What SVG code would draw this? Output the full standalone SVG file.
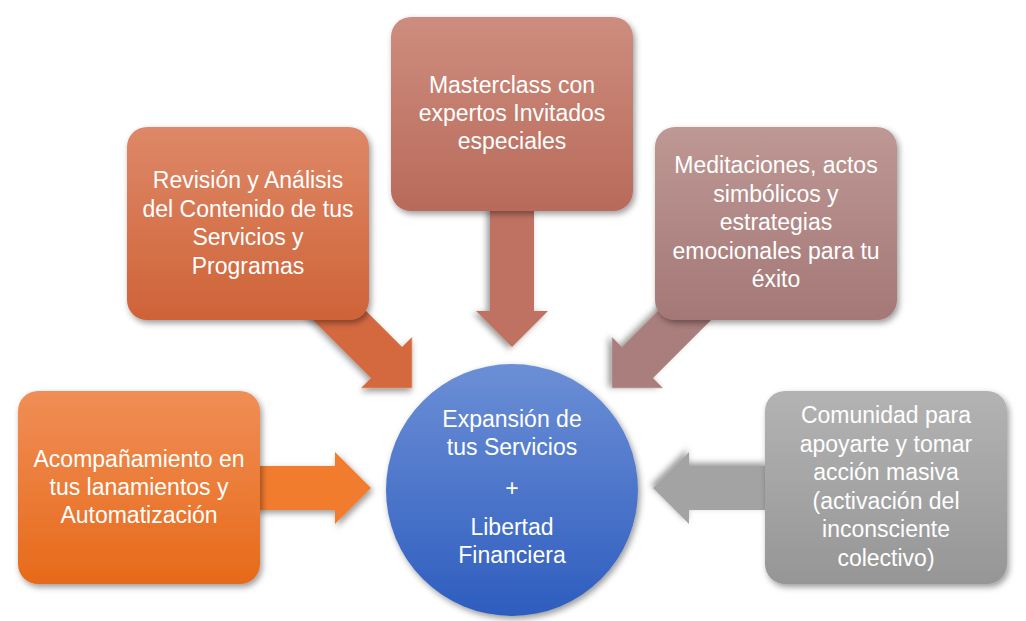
<svg xmlns="http://www.w3.org/2000/svg" width="1026" height="621" viewBox="0 0 1026 621">
<defs>
<filter id="sh" x="-20%" y="-20%" width="140%" height="140%">
<feDropShadow dx="2" dy="3" stdDeviation="3" flood-color="#000" flood-opacity="0.4"/>
</filter>
<linearGradient id="gUL" x1="0" y1="0" x2="0" y2="1"><stop offset="0" stop-color="#DE8868"/><stop offset="1" stop-color="#CF6337"/></linearGradient>
<linearGradient id="gT" x1="0" y1="0" x2="0" y2="1"><stop offset="0" stop-color="#CD8D7E"/><stop offset="1" stop-color="#B96A5A"/></linearGradient>
<linearGradient id="gUR" x1="0" y1="0" x2="0" y2="1"><stop offset="0" stop-color="#BE9894"/><stop offset="1" stop-color="#A47877"/></linearGradient>
<linearGradient id="gL" x1="0" y1="0" x2="0" y2="1"><stop offset="0" stop-color="#F08E56"/><stop offset="1" stop-color="#E76A1A"/></linearGradient>
<linearGradient id="gR" x1="0" y1="0" x2="0" y2="1"><stop offset="0" stop-color="#B3B3B3"/><stop offset="1" stop-color="#969696"/></linearGradient>
<linearGradient id="gC" x1="0" y1="0" x2="0" y2="1"><stop offset="0" stop-color="#6C8FD6"/><stop offset="1" stop-color="#2E5DBE"/></linearGradient>
</defs>
<style>
.box{filter:url(#sh)}
.arr{filter:url(#sh)}
text{font-family:"Liberation Sans",Arial,sans-serif;font-size:23px;fill:#fff;text-anchor:middle}
</style>
<g id="connectors">
<path class="arr" fill="#F27C2E" transform="translate(371,488)" d="M0,0 L-36,-36 L-36,-22 L-115,-22 L-115,22 L-36,22 L-36,36 Z"/>
<path class="arr" fill="#A3A3A3" transform="translate(653,488) rotate(180)" d="M0,0 L-36,-36 L-36,-22 L-115,-22 L-115,22 L-36,22 L-36,36 Z"/>
<path class="arr" fill="#C07262" transform="translate(512,347) rotate(90)" d="M0,0 L-36,-36 L-36,-22 L-140,-22 L-140,22 L-36,22 L-36,36 Z"/>
<path class="arr" fill="#D4693F" transform="translate(412,388) rotate(45)" d="M0,0 L-36,-36 L-36,-22 L-130,-22 L-130,22 L-36,22 L-36,36 Z"/>
<path class="arr" fill="#A97E7B" transform="translate(612,388) rotate(135)" d="M0,0 L-36,-36 L-36,-22 L-130,-22 L-130,22 L-36,22 L-36,36 Z"/>
</g>
<g id="node-revision">
<rect class="box" x="127" y="127" width="242" height="193" rx="20" fill="url(#gUL)"/>
<text x="248" y="188">Revisión y Análisis</text>
<text x="248" y="216.5">del Contenido de tus</text>
<text x="248" y="245">Servicios y</text>
<text x="248" y="273.5">Programas</text>
</g>
<g id="node-masterclass">
<rect class="box" x="391" y="17" width="242" height="194" rx="20" fill="url(#gT)"/>
<text x="512" y="93">Masterclass con</text>
<text x="512" y="121">expertos Invitados</text>
<text x="512" y="149">especiales</text>
</g>
<g id="node-meditaciones">
<rect class="box" x="655" y="127" width="242" height="193" rx="20" fill="url(#gUR)"/>
<text x="776" y="173">Meditaciones, actos</text>
<text x="776" y="201.5">simbólicos y</text>
<text x="776" y="230">estrategias</text>
<text x="776" y="258.5">emocionales para tu</text>
<text x="776" y="287">éxito</text>
</g>
<g id="node-acompanamiento">
<rect class="box" x="18" y="391" width="242" height="193" rx="20" fill="url(#gL)"/>
<text x="139" y="467">Acompañamiento en</text>
<text x="139" y="495">tus lanamientos y</text>
<text x="139" y="523">Automatización</text>
</g>
<g id="node-comunidad">
<rect class="box" x="765" y="391" width="242" height="193" rx="20" fill="url(#gR)"/>
<text x="886" y="423">Comunidad para</text>
<text x="886" y="451.5">apoyarte y tomar</text>
<text x="886" y="480">acción masiva</text>
<text x="886" y="508.5">(activación del</text>
<text x="886" y="537">inconsciente</text>
<text x="886" y="565.5">colectivo)</text>
</g>
<g id="node-centro">
<circle class="box" cx="512" cy="490" r="126" fill="url(#gC)"/>
<text x="512" y="427">Expansión de</text>
<text x="512" y="455">tus Servicios</text>
<text x="512" y="496">+</text>
<text x="512" y="535">Libertad</text>
<text x="512" y="563">Financiera</text>
</g>
</svg>
